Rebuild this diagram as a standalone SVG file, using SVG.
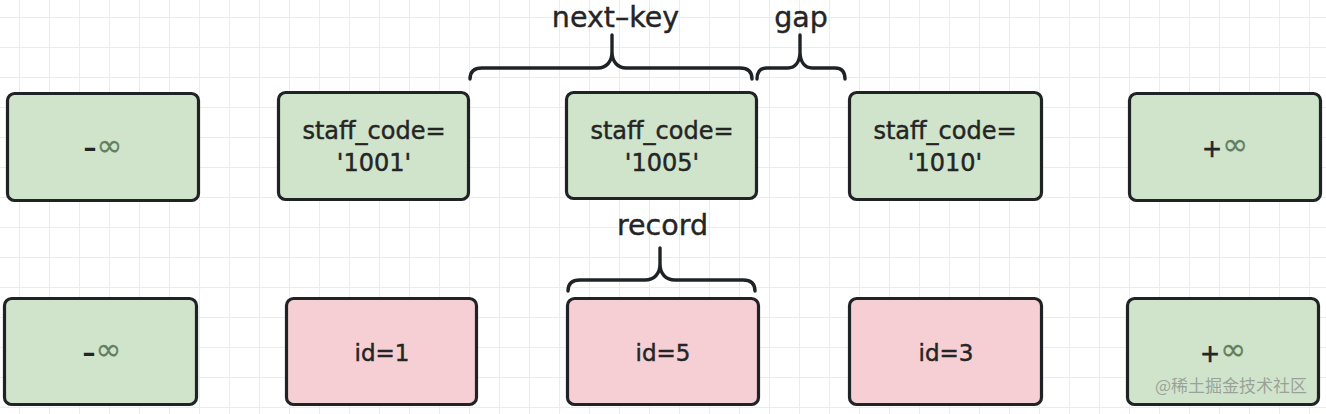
<svg xmlns="http://www.w3.org/2000/svg" width="1326" height="414" viewBox="0 0 1326 414">
<defs>
<pattern id="grid" x="19" y="17" width="30" height="30" patternUnits="userSpaceOnUse">
<path d="M0.5,0 V30 M0,0.5 H30" fill="none" stroke="#ececec" stroke-width="1"/>
</pattern>
<style>
.g{fill:#cfe4cb;stroke:#202326;stroke-width:3.2}
.p{fill:#f5cfd4;stroke:#202326;stroke-width:3.2}
.t{font-family:"DejaVu Sans","Liberation Sans",sans-serif;font-size:24px;fill:#252525;stroke:#252525;stroke-width:0.45;text-anchor:middle}
.id{font-family:"DejaVu Sans","Liberation Sans",sans-serif;font-size:23px;fill:#252525;stroke:#252525;stroke-width:0.45;text-anchor:middle}
.inf{font-family:"DejaVu Sans","Liberation Sans",sans-serif;font-size:26px;font-weight:bold;fill:#252525;text-anchor:middle}
.plus{font-family:"DejaVu Sans","Liberation Sans",sans-serif;font-size:24px;fill:#252525;stroke:#252525;stroke-width:0.6;text-anchor:middle}
.infs{font-size:31px;font-weight:normal;fill:#627e5f;stroke:#627e5f;stroke-width:0.3}
.lbl{font-family:"DejaVu Sans","Liberation Sans",sans-serif;font-size:28.5px;fill:#252525;stroke:#252525;stroke-width:0.4;text-anchor:middle}
.br{fill:none;stroke:#202326;stroke-width:3.4;stroke-linecap:round;stroke-linejoin:round}
</style>
</defs>
<rect width="1326" height="414" fill="#ffffff"/>
<rect width="1326" height="414" fill="url(#grid)"/>

<g id="connectors">
<path class="br" d="M470,79 C470,72 474,68 482,68 L598,68 C606,68 612,62 612,52 L612,35 M612,52 C612,62 618,68 626,68 L740,68 C748,68 752,72 752,79"/>
<path class="br" d="M757,79 C757,72 760,68 767,68 L788,68 C795,68 800,62 800,52 L800,35 M800,52 C800,62 805,68 812,68 L835,68 C842,68 845,72 845,79"/>
<path class="br" d="M568,291 C568,284 572,280 580,280 L645,280 C654,280 660,274 660,264 L660,248 M660,264 C660,274 666,280 675,280 L743,280 C751,280 755,284 755,291"/>
</g>

<g id="label-next-key"><text class="lbl" x="615.5" y="27">next–key</text></g>
<g id="label-gap"><text class="lbl" x="801" y="27">gap</text></g>
<g id="label-record"><text class="lbl" x="662.5" y="235">record</text></g>

<g id="sk-neg-inf">
<rect class="g" x="7.5" y="93.5" width="191" height="107" rx="7"/>
<text class="inf" x="103" y="157">–<tspan class="infs" dy="-1">∞</tspan></text>
</g>
<g id="sk-1001">
<rect class="g" x="278.5" y="92.5" width="190" height="107" rx="7"/>
<text class="t" x="374" y="139">staff_code=</text>
<text class="t" x="374" y="171">'1001'</text>
</g>
<g id="sk-1005">
<rect class="g" x="566.5" y="92.5" width="190" height="106" rx="7"/>
<text class="t" x="662" y="139">staff_code=</text>
<text class="t" x="662" y="171">'1005'</text>
</g>
<g id="sk-1010">
<rect class="g" x="849.5" y="92.5" width="192" height="107" rx="7"/>
<text class="t" x="945" y="139">staff_code=</text>
<text class="t" x="945" y="171">'1010'</text>
</g>
<g id="sk-pos-inf">
<rect class="g" x="1129.5" y="93.5" width="191" height="107" rx="7"/>
<text class="plus" x="1225" y="157">+<tspan class="infs" dy="-2">∞</tspan></text>
</g>

<g id="pk-neg-inf">
<rect class="g" x="4.5" y="298.5" width="192" height="106" rx="7"/>
<text class="inf" x="102" y="362">–<tspan class="infs" dy="-2">∞</tspan></text>
</g>
<g id="pk-1">
<rect class="p" x="286.5" y="298.5" width="190" height="106" rx="7"/>
<text class="id" x="382" y="361">id=1</text>
</g>
<g id="pk-5">
<rect class="p" x="567.5" y="298.5" width="191" height="106" rx="7"/>
<text class="id" x="663" y="361">id=5</text>
</g>
<g id="pk-3">
<rect class="p" x="849.5" y="298.5" width="192" height="106" rx="7"/>
<text class="id" x="946" y="361">id=3</text>
</g>
<g id="pk-pos-inf">
<rect class="g" x="1127.5" y="298.5" width="191" height="106" rx="7"/>
<text class="plus" x="1223" y="362">+<tspan class="infs" dy="-2">∞</tspan></text>
</g>

<g id="watermark">
<text x="1231" y="392" font-family="'Noto Sans CJK SC',sans-serif" font-size="17" fill="#8f9690" fill-opacity="0.85" text-anchor="middle">@稀土掘金技术社区</text>
</g>
</svg>
